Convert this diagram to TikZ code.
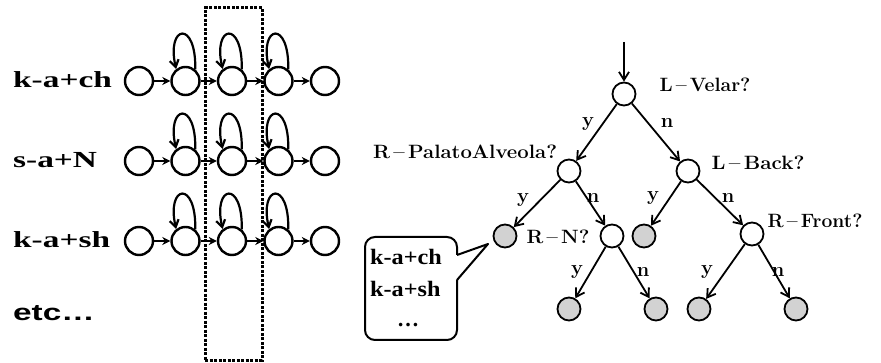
\documentclass[tikz,border=0pt]{standalone}
\usepackage{fontspec}
\usepackage{graphicx}
\newfontfamily\lserif{Liberation Serif}
\newfontfamily\lsans{Liberation Sans}
\usetikzlibrary{arrows.meta}
\tikzset{
  hmmstate/.style={circle,draw,line width=2.4pt,minimum size=28pt,inner sep=0pt,fill=white},
  hmmarr/.style={line width=2.5pt,-{Stealth[length=8pt,width=8pt]}},
  hmmloop/.style={line width=2.2pt,-{Straight Barb[length=7pt,width=9pt]}},
  tnode/.style={circle,draw,line width=1.8pt,minimum size=23pt,inner sep=0pt,fill=white},
  tleaf/.style={tnode,fill=gray!35},
  tarr/.style={line width=1.8pt,-{Straight Barb[length=8pt,width=10pt]}},
  rowlabel/.style={anchor=base west,inner sep=0pt},
  qlabel/.style={inner sep=0pt,font=\fontsize{19}{21}\selectfont\bfseries},
  elabel/.style={inner sep=0pt,font=\fontsize{20}{22}\selectfont\bfseries},
  ctext/.style={anchor=base west,inner sep=0pt,font=\fontsize{22}{26}\selectfont\lserif\bfseries},
}
\begin{document}
\begin{tikzpicture}[x=1pt,y=-1pt]
\useasboundingbox (0,0) rectangle (881,363);
% ---------- left: HMMs ----------
\foreach \r/\y/\lab in {1/81/k-a+ch,2/161/s-a+N,3/241/k-a+sh}{
  \foreach \c/\x in {1/139,2/185.5,3/232,4/278.5,5/325}{
    \node[hmmstate] (n-\r-\c) at (\x,\y) {};
  }
  \node[rowlabel] (lab-\r) at (13,\y+7) {\scalebox{1.45}[1]{\fontsize{23}{26}\selectfont\lserif\bfseries \lab}};
  \foreach \a/\b in {1/2,2/3,3/4,4/5}{
    \draw[hmmarr] (n-\r-\a) -- (n-\r-\b);
  }
  \foreach \c in {2,3,4}{
    \draw[hmmloop] (n-\r-\c.50) .. controls +(1,-50) and +(-10,-44) .. (n-\r-\c.128);
  }
}
\node[rowlabel] (lab-4) at (13,320) {\scalebox{1.45}[1]{\fontsize{23}{26}\selectfont\lsans\bfseries etc\ldots}};
\node[draw,line width=3pt,dash pattern=on 3pt off 1.5pt,minimum width=57pt,minimum height=352pt,inner sep=0pt] (win) at (233.5,184) {};
% ---------- right: decision tree ----------
\node[tnode] (r) at (624,94) {};
\coordinate (top) at (624,42);
\node[tnode] (a) at (569,171) {};
\node[tnode] (b) at (688,171) {};
\node[tleaf] (aa) at (505,236) {};
\node[tnode] (ab) at (612,236) {};
\node[tleaf] (ba) at (644,236) {};
\node[tnode] (bb) at (752,234) {};
\node[tleaf] (aba) at (569,309) {};
\node[tleaf] (abb) at (656,309) {};
\node[tleaf] (bba) at (699,309) {};
\node[tleaf] (bbb) at (796,309) {};
\draw[tarr] (top) -- (r);
\draw[tarr] (r) -- (a);
\draw[tarr] (r) -- (b);
\draw[tarr] (a) -- (aa);
\draw[tarr] (a) -- (ab);
\draw[tarr] (b) -- (ba);
\draw[tarr] (b) -- (bb);
\draw[tarr] (ab) -- (aba);
\draw[tarr] (ab) -- (abb);
\draw[tarr] (bb) -- (bba);
\draw[tarr] (bb) -- (bbb);
% question labels
\node[qlabel] (q1) at (705,85) {\resizebox{91pt}{13.5pt}{L\,--\,Velar?}};
\node[qlabel] (q2) at (465,152) {\resizebox{184pt}{13.5pt}{R\,--\,PalatoAlveola?}};
\node[qlabel] (q3) at (758,163) {\resizebox{93pt}{13.5pt}{L\,--\,Back?}};
\node[qlabel] (q4) at (558,237) {\resizebox{63pt}{13.5pt}{R\,--\,N?}};
\node[qlabel] (q5) at (815,221) {\resizebox{95pt}{13.5pt}{R\,--\,Front?}};
% edge labels
\node[elabel] (e1) at (588,124) {y};
\node[elabel] (e2) at (667,123) {n};
\node[elabel] (e3) at (523,200) {y};
\node[elabel] (e4) at (593,198) {n};
\node[elabel] (e5) at (653,198) {y};
\node[elabel] (e6) at (728,198) {n};
\node[elabel] (e7) at (577,272) {y};
\node[elabel] (e8) at (643,272) {n};
\node[elabel] (e9) at (707,272) {y};
\node[elabel] (e10) at (778,272) {n};
% callout
\coordinate (tip) at (488,244);
\draw[line width=2pt,rounded corners=10pt] (457,280) -- (457,340) -- (365,340) -- (365,237) -- (457,237) -- (457,255);
\draw[line width=2pt,line join=round] (457,255) -- (tip) -- (457,280);
\node[ctext] (c1) at (370,265) {\scalebox{1.1}[1]{k-a+ch}};
\node[ctext] (c2) at (370,297) {\scalebox{1.1}[1]{k-a+sh}};
\node[inner sep=0pt,font=\fontsize{22}{26}\selectfont\lserif\bfseries] (c3) at (408,325) {\ldots};
\end{tikzpicture}
\end{document}
